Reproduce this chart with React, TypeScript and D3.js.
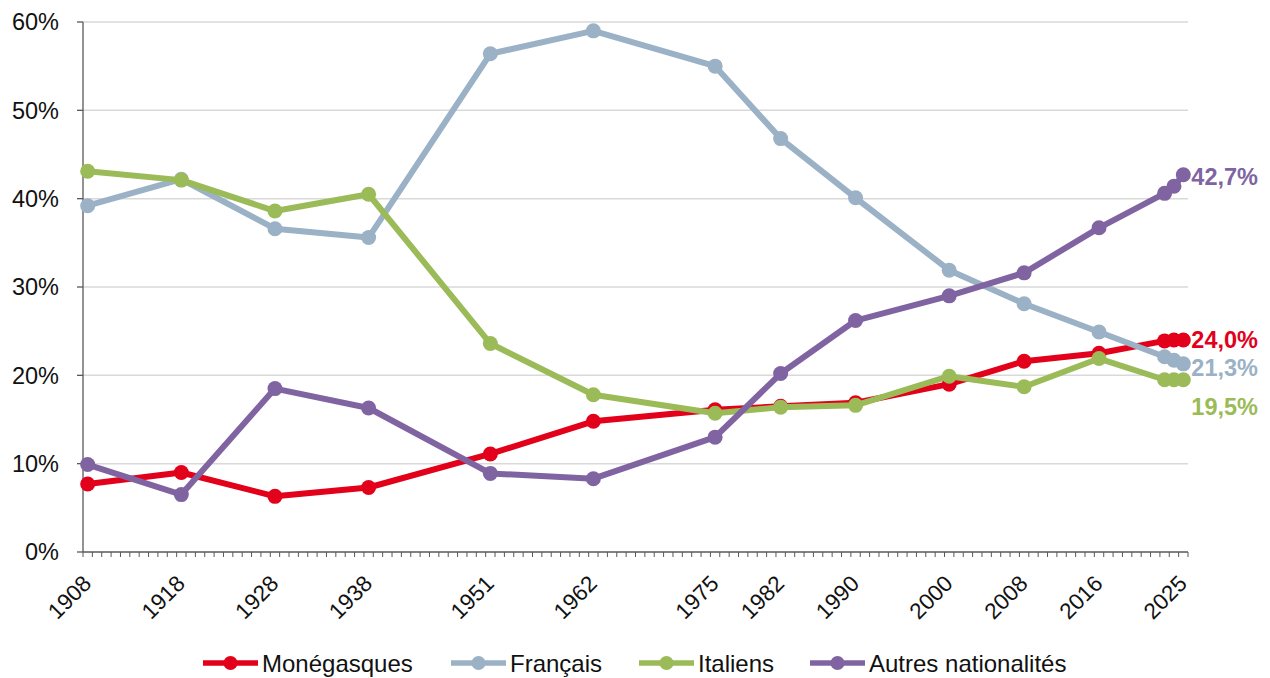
import React from "react";
import * as d3 from "d3";

const years = [1908, 1918, 1928, 1938, 1951, 1962, 1975, 1982, 1990, 2000, 2008, 2016, 2023, 2024, 2025];
const tickYears = [1908, 1918, 1928, 1938, 1951, 1962, 1975, 1982, 1990, 2000, 2008, 2016, 2025];
const yTicks = [0, 10, 20, 30, 40, 50, 60];

const seriesNames = ["Monégasques", "Français", "Italiens", "Autres nationalités"];
const monegasques = [7.7, 9.0, 6.3, 7.3, 11.1, 14.8, 16.1, 16.5, 16.9, 19.0, 21.6, 22.5, 23.9, 24.0, 24.0];
const francais = [39.2, 42.2, 36.6, 35.6, 56.4, 59.0, 55.0, 46.8, 40.1, 31.9, 28.1, 24.9, 22.1, 21.7, 21.3];
const italiens = [43.1, 42.1, 38.6, 40.5, 23.6, 17.8, 15.7, 16.4, 16.6, 19.9, 18.7, 21.9, 19.5, 19.5, 19.5];
const autres = [9.9, 6.5, 18.5, 16.3, 8.9, 8.3, 13.0, 20.2, 26.2, 29.0, 31.6, 36.7, 40.6, 41.4, 42.7];

const colors = ["#E3001B", "#9BB1C5", "#9BBB59", "#8064A2"];
// layout only
const endLabelDy = [0, 4, 27, 2];
const legendX = [203, 451, 639, 810];

const FONT = "'Liberation Sans', Arial, Helvetica, sans-serif";

export default function App() {
  const W = 1270, H = 678;
  const x = d3.scaleLinear().domain([1907.5, 2025.5]).range([83, 1188]);
  const y = d3.scaleLinear().domain([0, 60]).range([552, 22]);
  const allSeries = [monegasques, francais, italiens, autres];
  const line = d3
    .line<number>()
    .x((_, i) => x(years[i]))
    .y((d) => y(d));

  const minorTicks = d3.range(1907.5, 2025.6, 1);

  return (
    <svg width={W} height={H} style={{ position: "absolute", left: 0, top: 0, background: "#fff" }} fontFamily={FONT}>
      {/* gridlines */}
      {yTicks.slice(1).map((t) => (
        <line key={"g" + t} x1={83} x2={1188} y1={y(t)} y2={y(t)} stroke="#D9D9D9" strokeWidth={1.5} />
      ))}
      {/* y axis */}
      <line x1={83} x2={83} y1={y(60)} y2={y(0)} stroke="#595959" strokeWidth={1.3} />
      {yTicks.map((t) => (
        <g key={"yt" + t}>
          <line x1={77} x2={83} y1={y(t)} y2={y(t)} stroke="#595959" strokeWidth={1.3} />
          <text x={59} y={y(t)} dy="0.36em" textAnchor="end" fontSize={23.5} fill="#111">
            {t + "%"}
          </text>
        </g>
      ))}
      {/* x axis */}
      <line x1={83} x2={1188} y1={y(0)} y2={y(0)} stroke="#595959" strokeWidth={1.3} />
      {minorTicks.map((t) => (
        <line key={"mt" + t} x1={x(t)} x2={x(t)} y1={y(0)} y2={y(0) + 5} stroke="#595959" strokeWidth={1} />
      ))}
      {tickYears.map((t) => (
        <text
          key={"xl" + t}
          transform={`translate(${x(t) + 5},${585}) rotate(-45)`}
          textAnchor="end"
          fontSize={22.5}
          fill="#111"
        >
          {t}
        </text>
      ))}
      {/* series */}
      {allSeries.map((s, si) => (
        <g key={"s" + si}>
          <path d={line(s) || ""} fill="none" stroke={colors[si]} strokeWidth={6} strokeLinejoin="round" strokeLinecap="round" />
          {s.map((v, i) => (
            <circle key={i} cx={x(years[i])} cy={y(v)} r={7.5} fill={colors[si]} />
          ))}
        </g>
      ))}
      {/* end labels */}
      {allSeries.map((s, si) => {
        const last = s[s.length - 1];
        return (
          <text
            key={"el" + si}
            x={x(years[years.length - 1]) + 8}
            y={y(last) + endLabelDy[si]}
            dy="0.36em"
            fontSize={23.5}
            fontWeight="bold"
            fill={colors[si]}
          >
            {last.toFixed(1).replace(".", ",") + "%"}
          </text>
        );
      })}
      {/* legend */}
      {seriesNames.map((n, i) => (
        <g key={"lg" + i} transform={`translate(${legendX[i]},663)`}>
          <line x1={0} x2={55} y1={0} y2={0} stroke={colors[i]} strokeWidth={5.5} />
          <circle cx={27.5} cy={0} r={7} fill={colors[i]} />
          <text x={59} y={0} dy="0.36em" fontSize={24} fill="#111">
            {n}
          </text>
        </g>
      ))}
    </svg>
  );
}
